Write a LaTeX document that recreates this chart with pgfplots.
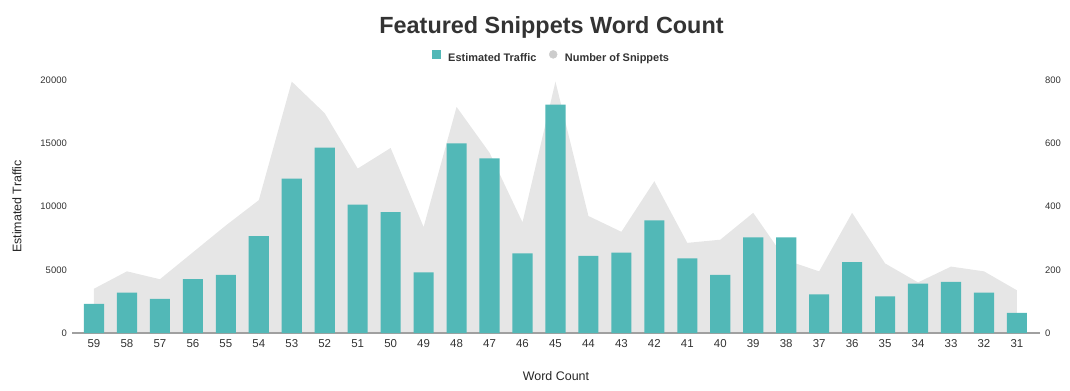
\documentclass[border=0pt]{standalone}
\usepackage{pgfplots}
\pgfplotsset{compat=1.18}
\usepackage{pgfplotstable}
\usepackage{fontspec}
\setmainfont{Liberation Sans}
\definecolor{barcol}{HTML}{52B8B7}
\definecolor{areacol}{HTML}{E6E6E6}
\definecolor{circcol}{HTML}{CCCCCC}
\definecolor{txt}{HTML}{333333}
\definecolor{axcol}{HTML}{A0A0A0}

\pgfplotstableread{
x traffic snippets
0 2300 140
1 3200 195
2 2700 170
3 4250 255
4 4600 340
5 7650 420
6 12200 795
7 14650 695
8 10150 520
9 9550 585
10 4800 335
11 15000 715
12 13800 570
13 6300 350
14 18050 795
15 6100 370
16 6350 320
17 8900 480
18 5900 285
19 4600 295
20 7550 380
21 7550 230
22 3050 195
23 5600 380
24 2900 220
25 3900 160
26 4050 210
27 3200 195
28 1600 135
}\datatable

\pgfplotsset{
  common/.style={
    scale only axis,
    width=968bp, height=253bp,
    at={(0,0)}, anchor=south west,
    xmin=-0.667, xmax=28.70,
    ymin=0,
    major tick length=0pt,
    /pgf/number format/assume math mode=true,
    /pgf/number format/1000 sep={},
    scaled y ticks=false,
    tick label style={text=txt},
  }
}

\begin{document}
\begin{tikzpicture}
\path[use as bounding box] (-72bp,-58bp) rectangle (998bp,333bp);

% right axis: number of snippets (area)
\begin{axis}[common,
  ymax=800,
  axis x line=none,
  axis y line*=right,
  y axis line style={draw=none},
  ytick={0,200,400,600,800},
  xtick=\empty,
  yticklabel style={anchor=west, inner sep=0pt, xshift=5bp, font=\fontsize{9.5}{11}\selectfont},
]
\addplot[fill=areacol, draw=none] table[x=x, y=snippets]{\datatable} \closedcycle;
\end{axis}

% left axis: estimated traffic (bars)
\begin{axis}[common,
  ymax=20000,
  axis x line=bottom,
  axis y line=left,
  x axis line style={-, draw=axcol, line width=1.3pt},
  y axis line style={draw=none},
  ytick={0,5000,10000,15000,20000},
  xtick={0,...,28},
  xticklabels={59,58,57,56,55,54,53,52,51,50,49,48,47,46,45,44,43,42,41,40,39,38,37,36,35,34,33,32,31},
  xticklabel style={anchor=north, inner sep=0pt, yshift=-6.5bp, font=\fontsize{11.5}{13}\selectfont},
  yticklabel style={anchor=east, inner sep=0pt, xshift=-5bp, font=\fontsize{9.5}{11}\selectfont},
  xlabel={Word Count},
  ylabel={Estimated Traffic},
  every axis x label/.style={at={([yshift=-43bp]rel axis cs:0.5,0)}, anchor=center, font=\fontsize{12.5}{15}\selectfont, text=black!85},
  every axis y label/.style={at={([xshift=-55bp]rel axis cs:0,0.5)}, anchor=center, rotate=90, font=\fontsize{12.5}{15}\selectfont, text=black!85},
  title={Featured Snippets Word Count},
  every axis title/.style={at={([xshift=-4.5bp,yshift=47bp]rel axis cs:0.5,1)}, anchor=base, font=\fontsize{23.5}{28}\bfseries, text=txt},
  legend columns=-1,
  legend style={draw=none, fill=none, inner sep=0pt, outer sep=0pt,
    at={([xshift=360bp,yshift=23.5bp]rel axis cs:0,1)}, anchor=west,
    font=\fontsize{11}{13}\bfseries, text=txt,
    nodes={inner sep=0pt},
    /tikz/every odd column/.append style={column sep=7.5bp},
    /tikz/every even column/.append style={column sep=12.5bp}},
]
\addplot[ybar, bar width=0.61, fill=barcol, draw=none, forget plot] table[x=x, y=traffic]{\datatable};
\addlegendimage{legend image code/.code={\fill[barcol] (0bp,-0.4bp) rectangle (8.3bp,7.9bp);}}
\addlegendentry{Estimated Traffic}
\addlegendimage{legend image code/.code={\fill[circcol] (4bp,3.8bp) circle (4bp);}}
\addlegendentry{Number of Snippets}
\end{axis}
\end{tikzpicture}
\end{document}
